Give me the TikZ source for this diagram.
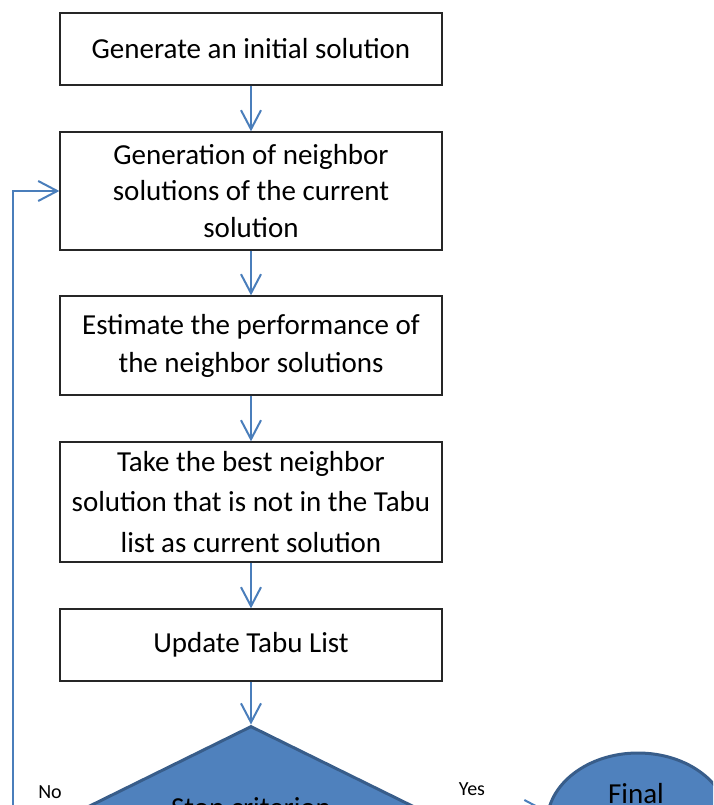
\documentclass[tikz,border=0pt]{standalone}
\usepackage{fontspec}
\setmainfont{Carlito}
\usetikzlibrary{arrows.meta,shapes.geometric}
\definecolor{arrowblue}{HTML}{4A7EBB}
\definecolor{fillblue}{HTML}{4F81BD}
\definecolor{edgeblue}{HTML}{385D8A}
\begin{document}
\begin{tikzpicture}[x=1pt,y=-1pt,
  procbox/.style={draw=black!85, line width=1.3pt, minimum width=382pt, inner sep=0pt, align=center},
  flow/.style={draw=arrowblue, line width=2pt, -{Straight Barb[length=19pt,width=20pt]}},
  bluefill/.style={draw=edgeblue, fill=fillblue, line width=3pt, inner sep=0pt},
  bigtext/.style={font=\fontsize{29pt}{35pt}\selectfont},
  smalltext/.style={font=\fontsize{20pt}{24pt}\selectfont, inner sep=0pt}
]
\useasboundingbox (0,0) rectangle (713,805);
\clip (0,0) rectangle (713,805);

\node[procbox, bigtext, minimum height=72pt] (b1) at (251,49) {Generate an initial solution};
\node[procbox, font=\fontsize{29pt}{36.5pt}\selectfont, minimum height=118pt] (b2) at (251,191)
  {Generation of neighbor\\solutions of the current\\solution};
\node[procbox, font=\fontsize{29pt}{38pt}\selectfont, minimum height=99pt] (b3) at (251,345.5)
  {Estimate the performance of\\the neighbor solutions};
\node[procbox, font=\fontsize{29pt}{40.5pt}\selectfont, minimum height=120pt] (b4) at (251,502)
  {Take the best neighbor\\solution that is not in the Tabu\\list as current solution};
\node[procbox, bigtext, minimum height=72pt] (b5) at (251,645) {Update Tabu List};

\node[diamond, aspect=2, bluefill, bigtext, minimum width=340pt, minimum height=168pt] (d) at (251,810) {Stop criterion};
\node[ellipse, bluefill, minimum width=182pt, minimum height=140pt] (e) at (638,823) {};
\node[bigtext, anchor=base, inner sep=0pt] (et) at (636,803) {Final};

\node[smalltext] (no) at (50,792.5) {No};
\node[smalltext] (yes) at (472,789) {Yes};

\draw[flow] (b1.south) -- (b2.north);
\draw[flow] (b2.south) -- (b3.north);
\draw[flow] (b3.south) -- (b4.north);
\draw[flow] (b4.south) -- (b5.north);
\draw[flow] (b5.south) -- (d.north);
\draw[flow] (d.east) -- (d.east -| e.west);
\coordinate (fb) at (12.5,810);
\draw[flow] (d.west) -- (fb) |- (b2.west);
\end{tikzpicture}
\end{document}
